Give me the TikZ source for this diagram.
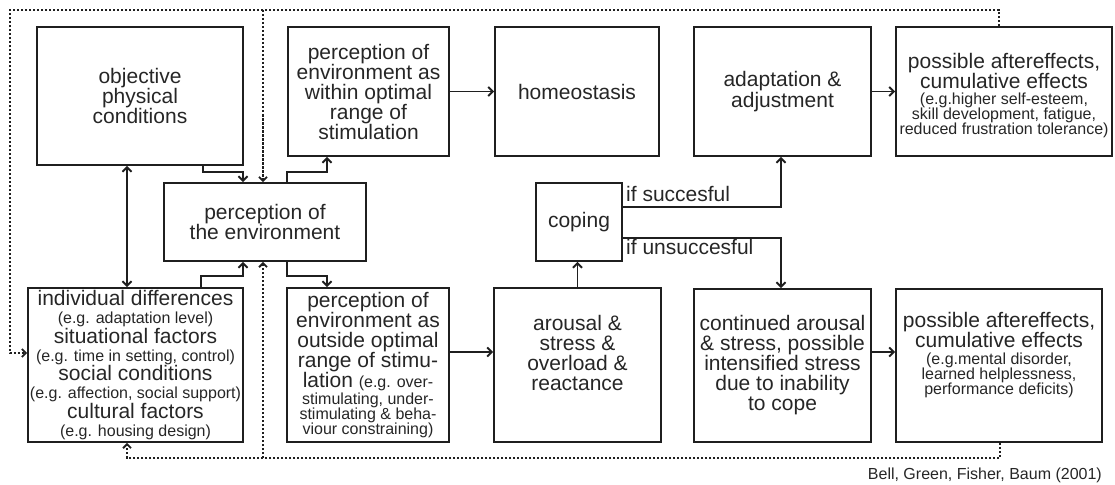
\documentclass[tikz,border=0pt]{standalone}
\usepackage{fontspec}
\setmainfont{Liberation Sans}
\usetikzlibrary{arrows.meta}
\newcommand\BoxFont{\fontsize{21}{20}\selectfont}
\newcommand\NoteFont{\fontsize{16}{15}\selectfont}
\begin{document}
\begin{tikzpicture}[x=1pt,y=-1pt,
  box/.style={draw=black!88, line width=1.9pt, inner sep=0pt, align=center, text=black!85, font=\BoxFont},
  txt/.style={inner sep=0pt, align=center, text=black!85, font=\BoxFont},
  lab/.style={inner sep=0pt, text=black!85, font=\BoxFont},
  arr/.style={draw=black!88, line width=1.9pt, -{Straight Barb[length=4.5pt,width=9pt]}},
  arrtwo/.style={draw=black!88, line width=1.9pt, {Straight Barb[length=4.5pt,width=9pt]}-{Straight Barb[length=4.5pt,width=9pt]}},
  dotline/.style={draw=black!88, line width=1.8pt, dash pattern=on 2.5pt off 1.5pt},
  dotarr/.style={dotline, -{Straight Barb[length=4pt,width=8pt]}}
]
\useasboundingbox (0,0) rectangle (1115,484);

% top row
\node[box, minimum width=206pt, minimum height=138pt] (obj) at (140,96) {objective\\physical\\conditions};
\node[box, minimum width=161pt, minimum height=129pt] (within) at (368.5,91.5) {perception of\\environment as\\within optimal\\range of\\stimulation};
\node[box, minimum width=164pt, minimum height=129pt] (homeo) at (577,91.5) {homeostasis};
\node[box, minimum width=177pt, minimum height=129pt, font=\fontsize{21}{18.5}\selectfont] (adapt) at (782.5,91.5) {adaptation \&\\adjustment};
\node[box, minimum width=216pt, minimum height=129pt] (aftone) at (1004,91.5) {};
\node[txt] (aftonet) at (1004,95.5) {possible aftereffects,\\cumulative effects\\[-4.5pt]
  {\NoteFont (e.g.higher self-esteem,}\\[-5pt]
  {\NoteFont skill development, fatigue,}\\[-5pt]
  {\NoteFont reduced frustration tolerance)}};

% middle row
\node[box, minimum width=202pt, minimum height=78pt, font=\fontsize{21}{18.5}\selectfont] (perc) at (265,222) {perception of\\the environment};
\node[box, minimum width=86pt, minimum height=78pt] (coping) at (579,222) {coping};

% bottom row
\node[box, minimum width=215pt, minimum height=154pt, font=\fontsize{21}{18}\selectfont] (indiv) at (135.5,365) {individual differences\\
  {\NoteFont (e.g. adaptation level)}\\
  situational factors\\
  {\NoteFont (e.g. time in setting, control)}\\
  social conditions\\
  {\NoteFont (e.g. affection, social support)}\\
  cultural factors\\
  {\NoteFont (e.g. housing design)}};
\node[box, minimum width=162pt, minimum height=154pt] (outside) at (368,365) {perception of\\environment as\\outside optimal\\range of stimu-\\lation {\NoteFont (e.g. over-}\\[-2.5pt]
  {\NoteFont stimulating, under-}\\[-5pt]
  {\NoteFont stimulating \& beha-}\\[-5pt]
  {\NoteFont viour constraining)}};
\node[box, minimum width=167pt, minimum height=154pt] (arousal) at (577.5,365) {};
\node[txt] (arousalt) at (577.5,353) {arousal \&\\stress \&\\overload \&\\reactance};
\node[box, minimum width=177pt, minimum height=153pt] (cont) at (782.5,365.5) {continued arousal\\\& stress, possible\\intensified stress\\due to inability\\to cope};
\node[box, minimum width=206pt, minimum height=153pt] (afttwo) at (999,365.5) {};
\node[txt] (afttwot) at (999,355) {possible aftereffects,\\cumulative effects\\[-3pt]
  {\NoteFont (e.g.mental disorder,}\\[-5pt]
  {\NoteFont learned helplessness,}\\[-5pt]
  {\NoteFont performance deficits)}};

% labels
\node[lab, anchor=base west] (succ) at (626,201) {if succesful};
\node[lab, anchor=base west] (unsucc) at (626,254) {if unsuccesful};
\node[lab, anchor=base east, font=\NoteFont] (cite) at (1102,479) {Bell, Green, Fisher, Baum (2001)};

% helper coordinates
\coordinate (ka) at (203,172);
\coordinate (kb) at (243,172);
\coordinate (kc) at (287,172);
\coordinate (kd) at (327,172);
\coordinate (ke) at (127,0);
\coordinate (kf) at (201,276);
\coordinate (kg) at (243,276);
\coordinate (kh) at (287,276);
\coordinate (ki) at (327,276);
\coordinate (tone) at (999,10);
\coordinate (ttwo) at (10,10);
\coordinate (tthree) at (10,353);
\coordinate (tfour) at (263,10);
\coordinate (bone) at (1000,458);
\coordinate (btwo) at (127,458);
\coordinate (bthree) at (263,458);
\coordinate (sone) at (781,207);
\coordinate (uone) at (781,238);
\coordinate (mone) at (0,352);

% solid connectors
\draw[arr] (obj.south -| ka) -- (ka) -- (kb) -- (perc.north -| kb);
\draw[arr] (perc.north -| kc) -- (kc) -- (kd) -- (within.south -| kd);
\draw[arrtwo] (obj.south -| ke) -- (indiv.north -| ke);
\draw[arr] (indiv.north -| kf) -- (kf) -- (kg) -- (perc.south -| kg);
\draw[arr] (perc.south -| kh) -- (kh) -- (ki) -- (outside.north -| ki);
\draw[arr] (within.east) -- (homeo.west);
\draw[arr] (adapt.east) -- (aftone.west);
\draw[arr] (outside.east |- mone) -- (arousal.west |- mone);
\draw[arr] (cont.east |- mone) -- (afttwo.west |- mone);
\draw[arr] (arousal.north) -- (arousal.north |- coping.south);
\draw[arr] (coping.east |- sone) -- (sone) -- (adapt.south -| sone);
\draw[arr] (coping.east |- uone) -- (uone) -- (cont.north -| uone);

% dotted feedback
\draw[dotarr] (aftone.north -| tone) -- (tone) -- (ttwo) -- (tthree) -- (indiv.west |- tthree);
\draw[dotarr] (tfour) -- (perc.north -| tfour);
\draw[dotarr] (afttwo.south -| bone) -- (bone) -- (btwo) -- (indiv.south -| btwo);
\draw[dotarr] (bthree) -- (perc.south -| bthree);
\end{tikzpicture}
\end{document}
